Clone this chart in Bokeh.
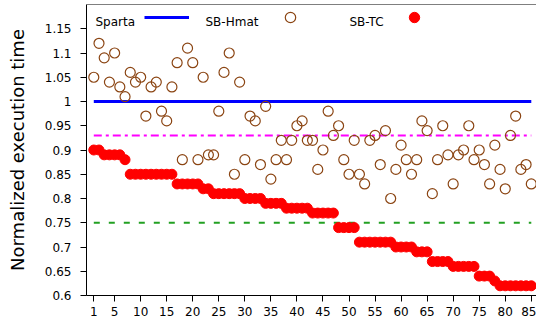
from bokeh.plotting import figure
from bokeh.models import Range1d, FixedTicker, Span, Legend, LegendItem, Label
from bokeh.embed import file_html
from bokeh.resources import INLINE
from bokeh.core.properties import value

# ---------------- data ----------------
case_ids = list(range(1, 86))

sb_hmat = [1.05, 1.12, 1.09, 1.04, 1.10, 1.03, 1.01, 1.06, 1.04, 1.05,
           0.97, 1.03, 1.04, 0.98, 0.96, 1.03, 1.08, 0.88, 1.11, 1.08,
           0.88, 1.05, 0.89, 0.89, 0.98, 1.06, 1.10, 0.85, 1.04, 0.88,
           0.97, 0.96, 0.87, 0.99, 0.84, 0.88, 0.92, 0.88, 0.92, 0.95,
           0.96, 0.92, 0.92, 0.86, 0.90, 0.98, 0.93, 0.95, 0.88, 0.85,
           0.92, 0.85, 0.83, 0.92, 0.93, 0.87, 0.94, 0.80, 0.86, 0.91,
           0.88, 0.85, 0.88, 0.96, 0.94, 0.81, 0.88, 0.95, 0.89, 0.83,
           0.89, 0.90, 0.95, 0.88, 0.90, 0.87, 0.83, 0.91, 0.86, 0.82,
           0.93, 0.97, 0.86, 0.87, 0.83]

sb_tc = [0.90, 0.90, 0.89, 0.89, 0.89, 0.89, 0.88, 0.85, 0.85, 0.85,
         0.85, 0.85, 0.85, 0.85, 0.85, 0.85, 0.83, 0.83, 0.83, 0.83,
         0.83, 0.82, 0.82, 0.81, 0.81, 0.81, 0.81, 0.81, 0.81, 0.80,
         0.80, 0.80, 0.80, 0.79, 0.79, 0.79, 0.79, 0.78, 0.78, 0.78,
         0.78, 0.78, 0.77, 0.77, 0.77, 0.77, 0.77, 0.74, 0.74, 0.74,
         0.74, 0.71, 0.71, 0.71, 0.71, 0.71, 0.71, 0.71, 0.70, 0.70,
         0.70, 0.70, 0.69, 0.69, 0.69, 0.67, 0.67, 0.67, 0.67, 0.66,
         0.66, 0.66, 0.66, 0.66, 0.64, 0.64, 0.64, 0.63, 0.62, 0.62,
         0.62, 0.62, 0.62, 0.62, 0.62]

sparta_level = 1.0
magenta_level = 0.93
green_level = 0.75

x_ticks = [1, 5, 10, 15, 20, 25, 30, 35, 40, 45, 50, 55, 60, 65, 70, 75, 80, 85]
y_ticks = [0.6, 0.65, 0.7, 0.75, 0.8, 0.85, 0.9, 0.95, 1.0, 1.05, 1.1, 1.15]
y_tick_labels = ["0.6", "0.65", "0.7", "0.75", "0.8", "0.85", "0.9", "0.95",
                 "1", "1.05", "1.1", "1.15"]
series_names = ["Sparta", "SB-Hmat", "SB-TC"]
y_label = "Normalized execution time"

FONT = "DejaVu Sans"

# ---------------- figure ----------------
p = figure(width=536, height=325, output_backend="svg", toolbar_location=None,
           x_range=Range1d(-0.4, 86.0), y_range=Range1d(0.6, 1.2),
           min_border_left=86, min_border_right=0, min_border_top=4,
           min_border_bottom=30)
p.outline_line_color = None
p.xgrid.visible = False
p.ygrid.visible = False
p.background_fill_color = "white"
p.border_fill_color = "white"

x0, x1 = case_ids[0], case_ids[-1]
r_sparta = p.line([x0, x1], [sparta_level, sparta_level], line_color="#0000ff", line_width=3)
p.line([x0, x1], [magenta_level, magenta_level], line_color="#ff00ff", line_width=2,
       line_dash="8 4 3 4")
p.line([x0, x1], [green_level, green_level], line_color="#22a022", line_width=2,
       line_dash="6 9")

r_hmat = p.scatter(case_ids, sb_hmat, marker="circle", size=10, fill_color=None,
                   line_color="#8B4513", line_width=1.2)
r_tc = p.scatter(case_ids, sb_tc, marker="circle", size=10, fill_color="#ff0000",
                 line_color="#ff0000", line_width=1)

# top spine
p.add_layout(Span(location=1.2, dimension="width", line_color="black", line_width=1))

# axes
for ax in (p.xaxis[0], p.yaxis[0]):
    ax.major_label_text_font = FONT
    ax.major_label_text_font_size = "12px"
    ax.major_label_text_color = "black"
    ax.axis_line_color = "black"
    ax.major_tick_line_color = "black"
    ax.major_tick_out = 6
    ax.major_tick_in = 0
    ax.minor_tick_line_color = None

p.xaxis.ticker = FixedTicker(ticks=x_ticks)
p.xaxis.major_label_standoff = 5
p.yaxis.ticker = FixedTicker(ticks=y_ticks)
p.yaxis.major_label_overrides = {t: s for t, s in zip(y_ticks, y_tick_labels)}
p.yaxis.major_label_standoff = 9
p.yaxis.axis_label = y_label
p.yaxis.axis_label_text_font = FONT
p.yaxis.axis_label_text_font_size = "18px"
p.yaxis.axis_label_text_font_style = "normal"
p.yaxis.axis_label_text_color = "black"
p.yaxis.axis_label_standoff = 14

# legend: text followed by glyph
def glyph_only_legend(renderer, left, gw):
    lg = Legend(items=[LegendItem(label=value(""), renderers=[renderer])],
                location=(left, 265), orientation="horizontal",
                glyph_width=gw, glyph_height=26, padding=0, margin=0, spacing=0,
                label_standoff=0, label_width=0, label_height=0,
                border_line_color=None, background_fill_alpha=0)
    p.add_layout(lg)

glyph_only_legend(r_sparta, 58, 45)
glyph_only_legend(r_hmat, 191, 26)
glyph_only_legend(r_tc, 315, 26)

for name, lx in zip(series_names, [9, 119, 263]):
    p.add_layout(Label(x=lx, y=273.5, x_units="screen", y_units="screen", text=name,
                       text_font=FONT, text_font_size="12px", text_color="black",
                       text_baseline="alphabetic"))

open("out.html", "w").write(file_html(p, INLINE))
